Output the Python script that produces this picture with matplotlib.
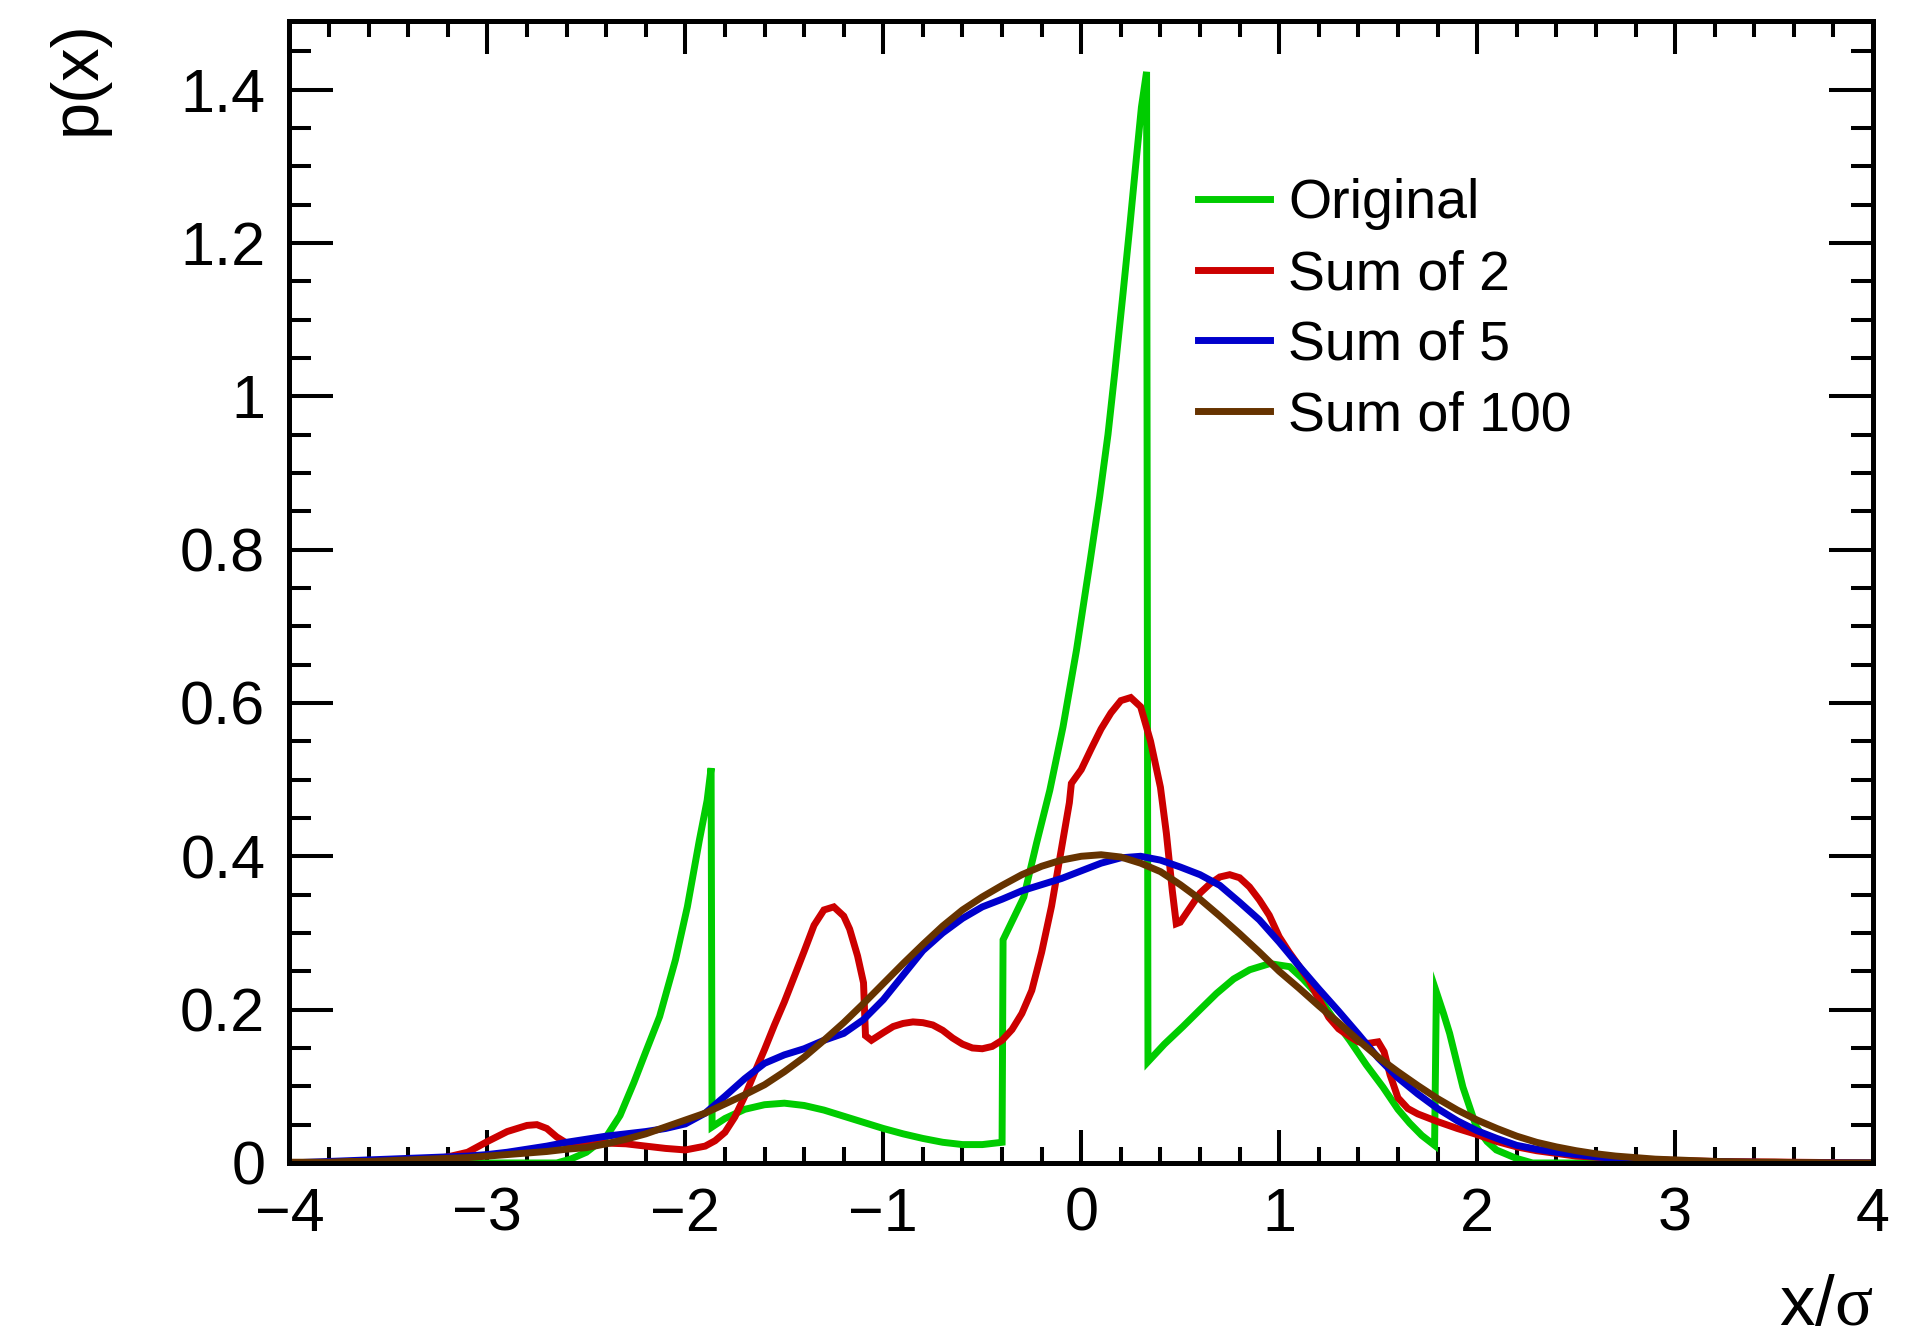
import numpy as np
import matplotlib
matplotlib.use("Agg")
import matplotlib.pyplot as plt
from matplotlib.ticker import MultipleLocator

plt.rcParams['font.family'] = ['Liberation Sans', 'DejaVu Sans']
plt.rcParams['mathtext.fontset'] = 'custom'
plt.rcParams['mathtext.rm'] = 'Liberation Serif'
plt.rcParams['mathtext.it'] = 'Liberation Serif:italic'
plt.rcParams['mathtext.bf'] = 'Liberation Serif:bold'

# ---------------- data ----------------
x_ticks = [-4, -3, -2, -1, 0, 1, 2, 3, 4]
x_ticklabels = ["\u22124", "\u22123", "\u22122", "\u22121", "0", "1", "2", "3", "4"]
y_ticks = [0, 0.2, 0.4, 0.6, 0.8, 1.0, 1.2, 1.4]
y_ticklabels = ["0", "0.2", "0.4", "0.6", "0.8", "1", "1.2", "1.4"]
series_names = ["Original", "Sum of 2", "Sum of 5", "Sum of 100"]
series_colors = ["#00cc00", "#cc0000", "#0000cc", "#663300"]

# Original distribution (jumps are given as repeated x positions)
orig_x = [-4.0, -2.65, -2.58, -2.50, -2.40, -2.33, -2.26, -2.20, -2.13, -2.05,
          -1.99, -1.93, -1.89, -1.87, -1.865, -1.80, -1.70, -1.60, -1.50, -1.40,
          -1.30, -1.20, -1.10, -1.00, -0.90, -0.80, -0.70, -0.60, -0.50, -0.40,
          -0.395, -0.29, -0.226, -0.159, -0.092, -0.024, 0.043, 0.093, 0.135, 0.169,
          0.211, 0.245, 0.279, 0.304, 0.33, 0.337, 0.42, 0.514, 0.60, 0.683,
          0.77, 0.851, 0.952, 1.053, 1.12, 1.188, 1.27, 1.356, 1.44, 1.524,
          1.60, 1.659, 1.72, 1.785, 1.794, 1.83, 1.861, 1.928, 1.996, 2.05,
          2.097, 2.198, 2.28, 4.0]
orig_y = [0.0, 0.0, 0.005, 0.014, 0.034, 0.062, 0.105, 0.145, 0.191, 0.265,
          0.334, 0.420, 0.473, 0.515, 0.047, 0.058, 0.070, 0.076, 0.078, 0.075,
          0.069, 0.061, 0.053, 0.045, 0.038, 0.032, 0.027, 0.024, 0.024, 0.027,
          0.291, 0.347, 0.417, 0.486, 0.569, 0.669, 0.782, 0.869, 0.950, 1.030,
          1.134, 1.221, 1.312, 1.377, 1.423, 0.132, 0.155, 0.178, 0.200, 0.221,
          0.240, 0.252, 0.260, 0.256, 0.240, 0.221, 0.190, 0.160, 0.128, 0.099,
          0.070, 0.052, 0.036, 0.023, 0.223, 0.195, 0.169, 0.099, 0.047, 0.028,
          0.017, 0.006, 0.0, 0.0]

# Sum of 2
sum2_x = [-4.0, -3.5, -3.3, -3.2, -3.1, -3.0, -2.9, -2.8, -2.75, -2.7,
          -2.65, -2.6, -2.5, -2.4, -2.3, -2.2, -2.1, -2.0, -1.9, -1.85,
          -1.8, -1.75, -1.7, -1.65, -1.6, -1.55, -1.5, -1.45, -1.4, -1.35,
          -1.3, -1.25, -1.2, -1.17, -1.13, -1.10, -1.09, -1.06, -1.0, -0.95,
          -0.9, -0.85, -0.8, -0.75, -0.7, -0.65, -0.6, -0.55, -0.5, -0.45,
          -0.4, -0.35, -0.3, -0.25, -0.2, -0.15, -0.1, -0.06, -0.05, 0.0,
          0.05, 0.1, 0.15, 0.2, 0.25, 0.3, 0.35, 0.4, 0.43, 0.46,
          0.48, 0.5, 0.55, 0.6, 0.65, 0.7, 0.75, 0.8, 0.85, 0.9,
          0.95, 1.0, 1.05, 1.1, 1.15, 1.2, 1.25, 1.3, 1.35, 1.4,
          1.45, 1.5, 1.53, 1.56, 1.6, 1.65, 1.7, 1.8, 1.9, 2.0,
          2.1, 2.2, 2.3, 2.5, 2.7, 2.9, 3.2, 3.6, 4.0]
sum2_y = [0.0, 0.001, 0.004, 0.008, 0.014, 0.028, 0.041, 0.049, 0.050, 0.045,
          0.034, 0.026, 0.023, 0.026, 0.025, 0.022, 0.019, 0.017, 0.022, 0.029,
          0.040, 0.060, 0.087, 0.118, 0.148, 0.180, 0.210, 0.243, 0.276, 0.310,
          0.330, 0.334, 0.322, 0.305, 0.270, 0.235, 0.166, 0.160, 0.170, 0.178,
          0.182, 0.184, 0.183, 0.180, 0.173, 0.163, 0.155, 0.150, 0.149, 0.152,
          0.160, 0.174, 0.195, 0.225, 0.275, 0.335, 0.410, 0.470, 0.495, 0.513,
          0.540, 0.566, 0.587, 0.603, 0.607, 0.595, 0.550, 0.490, 0.430, 0.355,
          0.312, 0.314, 0.333, 0.352, 0.364, 0.373, 0.376, 0.372, 0.360, 0.343,
          0.323, 0.295, 0.275, 0.257, 0.238, 0.214, 0.190, 0.175, 0.166, 0.158,
          0.156, 0.158, 0.145, 0.115, 0.085, 0.071, 0.064, 0.054, 0.045, 0.037,
          0.028, 0.021, 0.016, 0.009, 0.006, 0.004, 0.002, 0.001, 0.0]

# Sum of 5 and Sum of 100, sampled every 0.1 from -4 to 4
grid_x = np.linspace(-4.0, 4.0, 81)
sum5_y = [0.000, 0.001, 0.002, 0.003, 0.004, 0.005, 0.006, 0.007, 0.008, 0.009,
          0.011, 0.014, 0.018, 0.022, 0.027, 0.031, 0.035, 0.038, 0.041, 0.045,
          0.051, 0.065, 0.087, 0.110, 0.130, 0.141, 0.149, 0.160, 0.169, 0.187,
          0.213, 0.245, 0.277, 0.300, 0.319, 0.334, 0.344, 0.355, 0.363, 0.371,
          0.381, 0.391, 0.398, 0.400, 0.395, 0.386, 0.376, 0.362, 0.340, 0.317,
          0.288, 0.257, 0.227, 0.198, 0.168, 0.137, 0.111, 0.090, 0.071, 0.055,
          0.042, 0.032, 0.023, 0.018, 0.014, 0.011, 0.008, 0.006, 0.005, 0.004,
          0.003, 0.002, 0.002, 0.001, 0.001, 0.000, 0.000, 0.000, 0.000, 0.000,
          0.000]
sum100_y = [0.001, 0.001, 0.001, 0.002, 0.002, 0.003, 0.004, 0.005, 0.006, 0.007,
            0.009, 0.011, 0.013, 0.015, 0.018, 0.020, 0.025, 0.031, 0.038, 0.047,
            0.056, 0.065, 0.077, 0.089, 0.102, 0.119, 0.138, 0.160, 0.183, 0.208,
            0.234, 0.260, 0.285, 0.309, 0.330, 0.347, 0.362, 0.376, 0.387, 0.395,
            0.400, 0.402, 0.399, 0.391, 0.380, 0.363, 0.344, 0.322, 0.299, 0.275,
            0.250, 0.228, 0.205, 0.183, 0.160, 0.138, 0.119, 0.101, 0.084, 0.069,
            0.056, 0.045, 0.035, 0.027, 0.021, 0.016, 0.012, 0.009, 0.007, 0.005,
            0.004, 0.003, 0.002, 0.0015, 0.001, 0.001, 0.0005, 0.0005, 0.0, 0.0,
            0.0]

# ---------------- figure ----------------
fig = plt.figure(figsize=(19.26, 13.40), dpi=100)
ax = fig.add_axes([0.1503, 0.1321, 0.8222, 0.8526])

lw = 5.0
series = [(orig_x, orig_y), (sum2_x, sum2_y), (grid_x, sum5_y), (grid_x, sum100_y)]
for (xs, ys), name, col in zip(series, series_names, series_colors):
    ax.plot(xs, ys, color=col, lw=lw, label=name, solid_joinstyle='miter')

ax.set_xlim(-4, 4)
ax.set_ylim(0, 1.49)
ax.set_xticks(x_ticks)
ax.set_xticklabels(x_ticklabels)
ax.set_yticks(y_ticks)
ax.set_yticklabels(y_ticklabels)
ax.xaxis.set_minor_locator(MultipleLocator(0.2))
ax.yaxis.set_minor_locator(MultipleLocator(0.05))

ax.tick_params(axis='x', which='major', direction='in', length=23.8, width=2.9,
               top=True, labelsize=44, pad=17)
ax.tick_params(axis='x', which='minor', direction='in', length=11.5, width=2.9, top=True)
ax.tick_params(axis='y', which='major', direction='in', length=32, width=2.9,
               right=True, labelsize=44, pad=17.5)
ax.tick_params(axis='y', which='minor', direction='in', length=15.5, width=2.9, right=True)
for sp in ax.spines.values():
    sp.set_linewidth(3.6)

ax.set_xlabel("x/$\\mathrm{\\sigma}$", fontsize=51)
xl = ax.xaxis.label
xl.set_horizontalalignment('right')
xl.set_verticalalignment('baseline')
ax.xaxis.set_label_coords(1.0, -0.142)

ax.set_ylabel("p(x)", fontsize=48)
yl = ax.yaxis.label
yl.set_rotation_mode('anchor')
yl.set_horizontalalignment('right')
yl.set_verticalalignment('center')
ax.yaxis.set_label_coords(-0.134, 1.0)

ax.legend(loc='upper left', bbox_to_anchor=(0.5737, 0.862), frameon=False,
          fontsize=40, handlelength=1.3, handletextpad=0.32, labelspacing=0.34,
          borderpad=0, borderaxespad=0)

fig.savefig("out.png", dpi=100)
